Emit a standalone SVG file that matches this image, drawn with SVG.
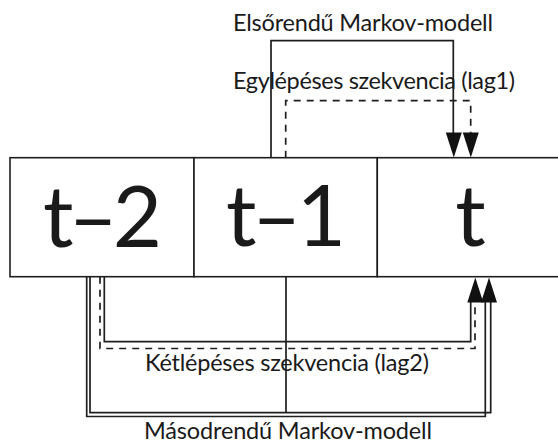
<svg xmlns="http://www.w3.org/2000/svg" xmlns:xlink="http://www.w3.org/1999/xlink" width="558" height="443" viewBox="0 0 558 443">
<style>
  .box { fill: #ffffff; stroke: #1e1e1e; stroke-width: 1.6; }
  .big { font-family: Lato, "Open Sans", "Liberation Sans", sans-serif; font-size: 85px; fill: #1a1a1a; }
  .lbl { font-family: Lato, "Open Sans", "Liberation Sans", sans-serif; font-size: 23.5px; fill: #1a1a1a; }
  .ln { fill: none; stroke: #1e1e1e; stroke-width: 1.7; }
  .dash { stroke-dasharray: 7 6; }
  .ah { fill: #111111; stroke: none; }
</style>
<defs>
  <path id="ahDown" d="M-8,-25 L8,-25 L0,0 Z"/>
  <path id="ahUp" d="M-8,25 L8,25 L0,0 Z"/>
</defs>
<rect x="0" y="0" width="558" height="443" fill="#ffffff"/>

<g id="node-t-2">
  <rect class="box" x="10" y="157.7" width="184" height="119"/>
  <text class="big" x="43" y="247" textLength="119" lengthAdjust="spacing">t–2</text>
</g>
<g id="node-t-1">
  <rect class="box" x="194" y="157.7" width="183.3" height="119"/>
  <text class="big" x="226" y="246" textLength="120" lengthAdjust="spacing">t–1</text>
</g>
<g id="node-t">
  <rect class="box" x="377.3" y="157.7" width="200" height="119"/>
  <text class="big" x="470.5" y="246" text-anchor="middle">t</text>
</g>

<g id="connectors">
  <!-- first-order Markov model (t-1 -> t) -->
  <path class="ln" d="M271,157.7 V40.7 H453.3 V135"/>
  <use class="ah" xlink:href="#ahDown" x="453.8" y="157.5"/>
  <text class="lbl" x="233" y="30.5" textLength="260" lengthAdjust="spacing">Elsőrendű Markov-modell</text>

  <!-- lag1 sequence (dashed) -->
  <path class="ln dash" d="M285.7,157.7 V100.7 H470.7 V135"/>
  <use class="ah" xlink:href="#ahDown" x="470.8" y="157.5"/>
  <text class="lbl" x="233" y="89" textLength="282" lengthAdjust="spacing">Egylépéses szekvencia (lag1)</text>

  <!-- lag2 sequence: solid and dashed -->
  <path class="ln" d="M104.3,276.7 V341.7 H470.7 V300"/>
  <path class="ln dash" d="M100,276.7 V348.5 H475 V300"/>
  <use class="ah" xlink:href="#ahUp" x="475.3" y="277.5"/>
  <text class="lbl" x="145" y="371" textLength="284" lengthAdjust="spacing">Kétlépéses szekvencia (lag2)</text>

  <!-- second-order Markov model (t-2, t-1 -> t) -->
  <path class="ln" d="M86.7,276.7 V416.5 H485.3 V300"/>
  <path class="ln" d="M90,276.7 V412.7 H490.7 V300"/>
  <path class="ln" d="M286,276.7 V412.7"/>
  <use class="ah" xlink:href="#ahUp" x="489" y="277.5"/>
  <text class="lbl" x="144" y="439" textLength="288" lengthAdjust="spacing">Másodrendű Markov-modell</text>
</g>
</svg>
